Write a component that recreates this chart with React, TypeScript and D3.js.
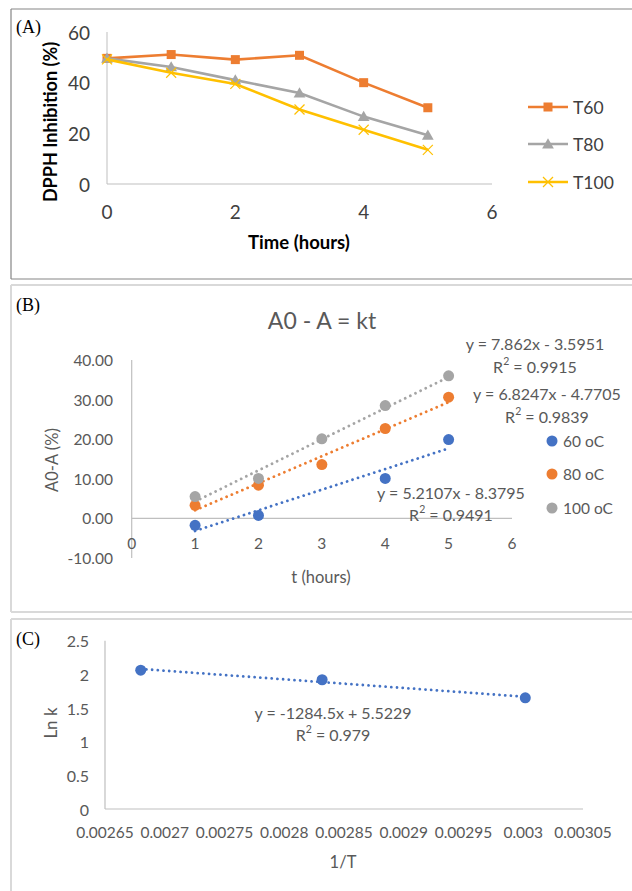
import React from "react";
import * as d3 from "d3";

// ---------- Panel A data ----------
const hoursA = [0, 1, 2, 3, 4, 5];
const t60 = [49.6, 51.1, 49.1, 50.8, 40.0, 30.1];
const t80 = [49.6, 46.2, 41.0, 35.9, 26.6, 19.2];
const t100 = [49.2, 43.9, 39.5, 29.4, 21.4, 13.5];
const seriesNamesA = ["T60", "T80", "T100"];
const xTicksA = [0, 2, 4, 6];
const yTicksA = [0, 20, 40, 60];

// ---------- Panel B data ----------
const tB60 = [1, 2, 4, 5];
const vB60 = [-1.75, 0.75, 10.1, 19.9];
const tB80 = [1, 2, 3, 4, 5];
const vB80 = [3.3, 8.4, 13.6, 22.7, 30.6];
const tB100 = [1, 2, 3, 4, 5];
const vB100 = [5.5, 10.1, 20.1, 28.5, 36.0];
const seriesNamesB = ["60 oC", "80 oC", "100 oC"];
const slopesB = [5.2107, 6.8247, 7.862];
const interceptsB = [-8.3795, -4.7705, -3.5951];
const r2B = ["0.9491", "0.9839", "0.9915"];
const xTicksB = [0, 1, 2, 3, 4, 5, 6];
const yTicksB = [-10, 0, 10, 20, 30, 40];

// ---------- Panel C data ----------
const invT = [0.0026799, 0.0028317, 0.0030017];
const lnK = [2.062, 1.92, 1.651];
const slopeC = -1284.5;
const interceptC = 5.5229;
const r2C = "0.979";
const xTicksC = ["0.00265", "0.0027", "0.00275", "0.0028", "0.00285", "0.0029", "0.00295", "0.003", "0.00305"];
const yTicksC = ["0", "0.5", "1", "1.5", "2", "2.5"];

const ORANGE = "#ED7D31";
const GRAY = "#A5A5A5";
const YELLOW = "#FFC000";
const BLUE = "#4472C4";
const FONT = "Lato, 'Open Sans', sans-serif";
const TXT = "#595959";
const AXIS = "#BFBFBF";

function Marker({ kind, x, y, color }: { kind: string; x: number; y: number; color: string }) {
  if (kind === "square")
    return <rect x={x - 4.5} y={y - 4.5} width={9} height={9} fill={color} />;
  if (kind === "triangle") {
    const p = d3.symbol().type(d3.symbolTriangle).size(60)();
    return <path d={p || ""} transform={`translate(${x},${y + 1})`} fill={color} />;
  }
  return (
    <g stroke={color} strokeWidth={1.2}>
      <line x1={x - 5} y1={y - 5} x2={x + 5} y2={y + 5} />
      <line x1={x - 5} y1={y + 5} x2={x + 5} y2={y - 5} />
    </g>
  );
}

function PanelA() {
  const x = d3.scaleLinear().domain([0, 6]).range([107, 492]);
  const y = d3.scaleLinear().domain([0, 60]).range([184, 32]);
  const line = d3.line<number>().x((_, i) => x(hoursA[i])).y((d) => y(d));
  const series = [
    { name: seriesNamesA[0], v: t60, c: ORANGE, m: "square" },
    { name: seriesNamesA[1], v: t80, c: GRAY, m: "triangle" },
    { name: seriesNamesA[2], v: t100, c: YELLOW, m: "x" },
  ];
  const legY = [107, 144, 182];
  return (
    <g>
      <line x1={11} y1={9} x2={632} y2={9} stroke="#858585" strokeWidth={1.2} />
      <line x1={11} y1={9} x2={11} y2={279} stroke="#858585" strokeWidth={1.2} />
      <line x1={11} y1={279} x2={632} y2={279} stroke="#858585" strokeWidth={1.2} />
      <text x={16} y={33} fontFamily="'Liberation Serif', serif" fontSize={18} fill="#000">(A)</text>
      <line x1={x(0)} y1={y(0)} x2={x(6)} y2={y(0)} stroke={AXIS} />
      <line x1={x(0)} y1={y(0)} x2={x(0)} y2={y(60)} stroke={AXIS} />
      {yTicksA.map((t) => (
        <text key={t} x={90} y={y(t)} textAnchor="end" dominantBaseline="central" fontFamily={FONT} fontSize={19} fill="#404040">{t}</text>
      ))}
      {xTicksA.map((t) => (
        <text key={t} x={x(t)} y={211} textAnchor="middle" dominantBaseline="central" fontFamily={FONT} fontSize={19} fill="#404040">{t}</text>
      ))}
      <text x={299} y={242} textAnchor="middle" dominantBaseline="central" fontFamily={FONT} fontWeight="bold" fontSize={18.5} fill="#000">Time (hours)</text>
      <text transform="translate(50,122) rotate(-90)" textAnchor="middle" dominantBaseline="central" fontFamily={FONT} fontWeight="bold" fontSize={18} fill="#000">DPPH Inhibition (%)</text>
      {series.map((s) => (
        <g key={s.name}>
          <path d={line(s.v) || ""} fill="none" stroke={s.c} strokeWidth={2.6} />
          {s.v.map((v, i) => (
            <Marker key={i} kind={s.m} x={x(hoursA[i])} y={y(v)} color={s.c} />
          ))}
        </g>
      ))}
      {series.map((s, i) => (
        <g key={s.name}>
          <line x1={528} x2={568} y1={legY[i]} y2={legY[i]} stroke={s.c} strokeWidth={2.6} />
          <Marker kind={s.m} x={548} y={legY[i]} color={s.c} />
          <text x={573} y={legY[i]} dominantBaseline="central" fontFamily={FONT} fontSize={17.5} fill="#404040">{s.name}</text>
        </g>
      ))}
    </g>
  );
}

function PanelB() {
  const x = d3.scaleLinear().domain([0, 6]).range([131.7, 512]);
  const y = d3.scaleLinear().domain([-10, 40]).range([558, 360]);
  const series = [
    { t: tB60, v: vB60, c: BLUE },
    { t: tB80, v: vB80, c: ORANGE },
    { t: tB100, v: vB100, c: GRAY },
  ];
  const eqPos = [
    { x: 451, y1: 492, y2: 514 },
    { x: 547, y1: 393, y2: 416 },
    { x: 535, y1: 343, y2: 366 },
  ];
  const legY = [441, 474, 508];
  return (
    <g>
      <line x1={11} y1={285} x2={632} y2={285} stroke="#D9D9D9" strokeWidth={2} />
      <line x1={11} y1={285} x2={11} y2={612} stroke="#D9D9D9" strokeWidth={2} />
      <line x1={11} y1={612} x2={632} y2={612} stroke="#D9D9D9" strokeWidth={2} />
      <text x={16} y={311} fontFamily="'Liberation Serif', serif" fontSize={18} fill="#000">(B)</text>
      <text x={322} y={320} textAnchor="middle" dominantBaseline="central" fontFamily={FONT} fontSize={23} fill={TXT}>A0 - A = kt</text>
      <line x1={x(0)} y1={y(0)} x2={x(6)} y2={y(0)} stroke={AXIS} strokeWidth={1.2} />
      <line x1={x(0)} y1={y(-10)} x2={x(0)} y2={y(40)} stroke={AXIS} strokeWidth={1.2} />
      {yTicksB.map((t) => (
        <text key={t} x={113} y={y(t)} textAnchor="end" dominantBaseline="central" fontFamily={FONT} fontSize={15.5} fill={TXT}>{t.toFixed(2)}</text>
      ))}
      {xTicksB.map((t) => (
        <text key={t} x={x(t)} y={543} textAnchor="middle" dominantBaseline="central" fontFamily={FONT} fontSize={15.5} fill={TXT}>{t}</text>
      ))}
      <text x={321} y={577} textAnchor="middle" dominantBaseline="central" fontFamily={FONT} fontSize={16.5} fill={TXT}>t (hours)</text>
      <text transform="translate(52,460) rotate(-90)" textAnchor="middle" dominantBaseline="central" fontFamily={FONT} fontSize={16.5} fill={TXT}>A0-A (%)</text>
      {series.map((s, k) => {
        const x0 = d3.min(s.t) as number;
        const x1 = d3.max(s.t) as number;
        return (
          <line key={"tr" + k} x1={x(x0)} y1={y(slopesB[k] * x0 + interceptsB[k])} x2={x(x1)} y2={y(slopesB[k] * x1 + interceptsB[k])}
            stroke={s.c} strokeWidth={2.8} strokeDasharray="0.01 5.7" strokeLinecap="round" />
        );
      })}
      {series.map((s, k) =>
        s.v.map((v, i) => <circle key={k + "-" + i} cx={x(s.t[i])} cy={y(v)} r={5.5} fill={s.c} />)
      )}
      {eqPos.map((p, k) => (
        <g key={"eq" + k} fontFamily={FONT} fontSize={16} fill={TXT} textAnchor="middle">
          <text x={p.x} y={p.y1} dominantBaseline="central">
            {`y = ${slopesB[k]}x - ${Math.abs(interceptsB[k])}`}
          </text>
          <text x={p.x} y={p.y2} dominantBaseline="central">
            R<tspan dy={-5} fontSize={10.5}>2</tspan><tspan dy={5}>{` = ${r2B[k]}`}</tspan>
          </text>
        </g>
      ))}
      {series.map((s, k) => (
        <g key={"lg" + k}>
          <circle cx={552} cy={legY[k]} r={5.5} fill={s.c} />
          <text x={563} y={legY[k]} dominantBaseline="central" fontFamily={FONT} fontSize={15.5} fill={TXT}>{seriesNamesB[k]}</text>
        </g>
      ))}
    </g>
  );
}

function PanelC() {
  const x = d3.scaleLinear().domain([0.00265, 0.00305]).range([105, 583]);
  const y = d3.scaleLinear().domain([0, 2.5]).range([809, 640.7]);
  const x0 = d3.min(invT) as number;
  const x1 = d3.max(invT) as number;
  return (
    <g>
      <line x1={11} y1={619} x2={632} y2={619} stroke="#D9D9D9" strokeWidth={2} />
      <line x1={11} y1={619} x2={11} y2={891} stroke="#D9D9D9" strokeWidth={2} />
      <text x={16} y={645} fontFamily="'Liberation Serif', serif" fontSize={18} fill="#000">(C)</text>
      <line x1={x(0.00265)} y1={y(0)} x2={x(0.00305)} y2={y(0)} stroke={AXIS} strokeWidth={1.2} />
      <line x1={x(0.00265)} y1={y(0)} x2={x(0.00265)} y2={y(2.5)} stroke={AXIS} strokeWidth={1.2} />
      {yTicksC.map((t) => (
        <text key={t} x={89} y={y(+t)} textAnchor="end" dominantBaseline="central" fontFamily={FONT} fontSize={16} fill={TXT}>{t}</text>
      ))}
      {xTicksC.map((t) => (
        <text key={t} x={x(+t)} y={832} textAnchor="middle" dominantBaseline="central" fontFamily={FONT} fontSize={15.5} fill={TXT}>{t}</text>
      ))}
      <text x={343} y={862} textAnchor="middle" dominantBaseline="central" fontFamily={FONT} fontSize={16.5} fill={TXT}>1/T</text>
      <text transform="translate(50,723) rotate(-90)" textAnchor="middle" dominantBaseline="central" fontFamily={FONT} fontSize={17} fill={TXT}>Ln k</text>
      <line x1={x(x0)} y1={y(slopeC * x0 + interceptC)} x2={x(x1)} y2={y(slopeC * x1 + interceptC)}
        stroke={BLUE} strokeWidth={2.8} strokeDasharray="0.01 5.7" strokeLinecap="round" />
      {invT.map((v, i) => (
        <circle key={i} cx={x(v)} cy={y(lnK[i])} r={5.5} fill={BLUE} />
      ))}
      <g fontFamily={FONT} fontSize={16} fill={TXT} textAnchor="middle">
        <text x={333} y={712} dominantBaseline="central">{`y = ${slopeC}x + ${interceptC}`}</text>
        <text x={333} y={734} dominantBaseline="central">
          R<tspan dy={-5} fontSize={10.5}>2</tspan><tspan dy={5}>{` = ${r2C}`}</tspan>
        </text>
      </g>
    </g>
  );
}

export default function App() {
  return (
    <svg width={632} height={891} style={{ position: "absolute", left: 0, top: 0, background: "#fff" }}>
      <rect width={632} height={891} fill="#fff" />
      <PanelA />
      <PanelB />
      <PanelC />
    </svg>
  );
}
